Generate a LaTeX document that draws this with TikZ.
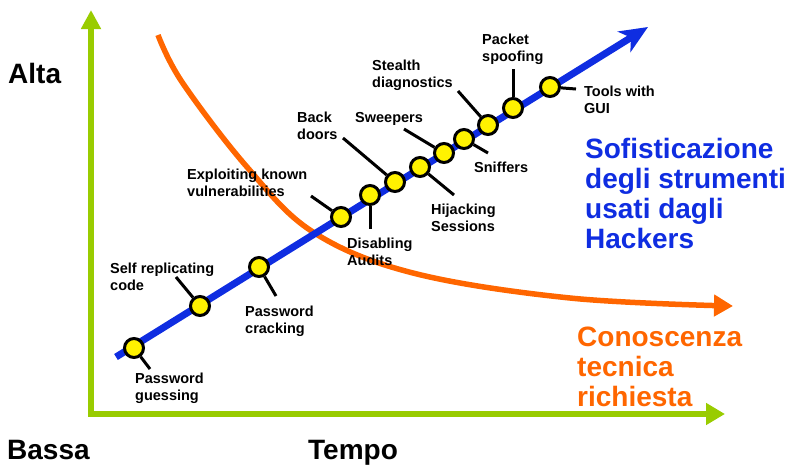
\documentclass[tikz,border=0pt]{standalone}
\usepackage{fontspec}
\setmainfont{Liberation Sans}
\usetikzlibrary{arrows.meta}

\definecolor{verde}{RGB}{153,204,0}
\definecolor{arancio}{RGB}{255,102,0}
\definecolor{blu}{RGB}{15,45,225}

\tikzset{
	punto/.style={circle, draw=black, fill=yellow, line width=3pt, minimum size=19pt, inner sep=0pt},
	asta/.style={line width=3pt},
	etichetta/.style={align=left, anchor=north west, inner sep=0pt, font=\bfseries\fontsize{14.5}{17}\selectfont},
	titolo/.style={align=left, anchor=north west, inner sep=0pt, font=\bfseries\fontsize{28}{30}\selectfont}
}

\begin{document}
\begin{tikzpicture}[x=1pt, y=-1pt]
		\useasboundingbox (0,0) rectangle (797,467);
		
		% assi
		\coordinate (cima) at (91,10);
		\coordinate (origine) at (91,414);
		\coordinate (fine) at (725,414);
		\draw[verde, line width=6pt, {Triangle[length=19pt,width=19pt]}-{Triangle[length=19pt,width=21pt]}]
		(cima) -- (origine) -- (fine);
		
		% conoscenza richiesta
		\draw[arancio, line width=5.5pt, -{Triangle[length=19pt,width=21pt]}]
		plot [smooth, tension=0.6] coordinates {(158,35) (182,82) (247,167) (313,232) (413,273) (570,298) (733,306)};
		
		% sofisticazione
		\coordinate (inizio) at (116,357);
		\coordinate (punta) at (648,27);
		\draw[blu, line width=7pt, -{Stealth[length=28pt,width=24pt,inset=8pt]}] (inizio) -- (punta);
		
		\node[punto] (p1) at (134,348) {};
		\node[punto] (p2) at (200,306) {};
		\node[punto] (p3) at (259,267) {};
		\node[punto] (p4) at (341,217) {};
		\node[punto] (p5) at (370,195) {};
		\node[punto] (p6) at (395,182) {};
		\node[punto] (p7) at (420,167) {};
		\node[punto] (p8) at (444,153) {};
		\node[punto] (p9) at (464,139) {};
		\node[punto] (p10) at (488,125) {};
		\node[punto] (p11) at (513,108) {};
		\node[punto] (p12) at (550,87) {};
		
		\coordinate (a1) at (150,369);
		\coordinate (a2) at (176,277);
		\coordinate (a3) at (276,296);
		\coordinate (a4) at (311,196);
		\coordinate (a5) at (370,229);
		\coordinate (a6) at (343,138);
		\coordinate (a7) at (454,195);
		\coordinate (a8) at (404,129);
		\coordinate (a9) at (488,153);
		\coordinate (a10) at (458,91);
		\coordinate (a11) at (513,69);
		\coordinate (a12) at (576,89);
		
		\draw[asta] (p1) -- (a1);
		\draw[asta] (p2) -- (a2);
		\draw[asta] (p3) -- (a3);
		\draw[asta] (p4) -- (a4);
		\draw[asta] (p5) -- (a5);
		\draw[asta] (p6) -- (a6);
		\draw[asta] (p7) -- (a7);
		\draw[asta] (p8) -- (a8);
		\draw[asta] (p9) -- (a9);
		\draw[asta] (p10) -- (a10);
		\draw[asta] (p11) -- (a11);
		\draw[asta] (p12) -- (a12);
		
		\node[etichetta] (e1) at (135,373) {Password\\guessing};
		\node[etichetta] (e2) at (110,263) {Self replicating\\code};
		\node[etichetta] (e3) at (245,306) {Password\\cracking};
		\node[etichetta] (e4) at (187,169) {Exploiting known\\vulnerabilities};
		\node[etichetta] (e5) at (347,238) {Disabling\\Audits};
		\node[etichetta] (e6) at (297,112) {Back\\doors};
		\node[etichetta] (e7) at (431,204) {Hijacking\\Sessions};
		\node[etichetta] (e8) at (355,112) {Sweepers};
		\node[etichetta] (e9) at (474,162) {Sniffers};
		\node[etichetta] (e10) at (372,60) {Stealth\\diagnostics};
		\node[etichetta] (e11) at (482,34) {Packet\\spoofing};
		\node[etichetta] (e12) at (584,86) {Tools with\\GUI};
		
		% scritte grandi
		\node[titolo] (alta) at (8,63) {Alta};
		\node[titolo] (bassa) at (7,440) {Bassa};
		\node[titolo] (tempo) at (308,440) {Tempo};
		\node[titolo, text=blu] (strumenti) at (585,138) {Sofisticazione\\degli strumenti\\usati dagli\\Hackers};
		\node[titolo, text=arancio] (conoscenza) at (577,327) {Conoscenza\\tecnica\\richiesta};
		
\end{tikzpicture}
\end{document}
